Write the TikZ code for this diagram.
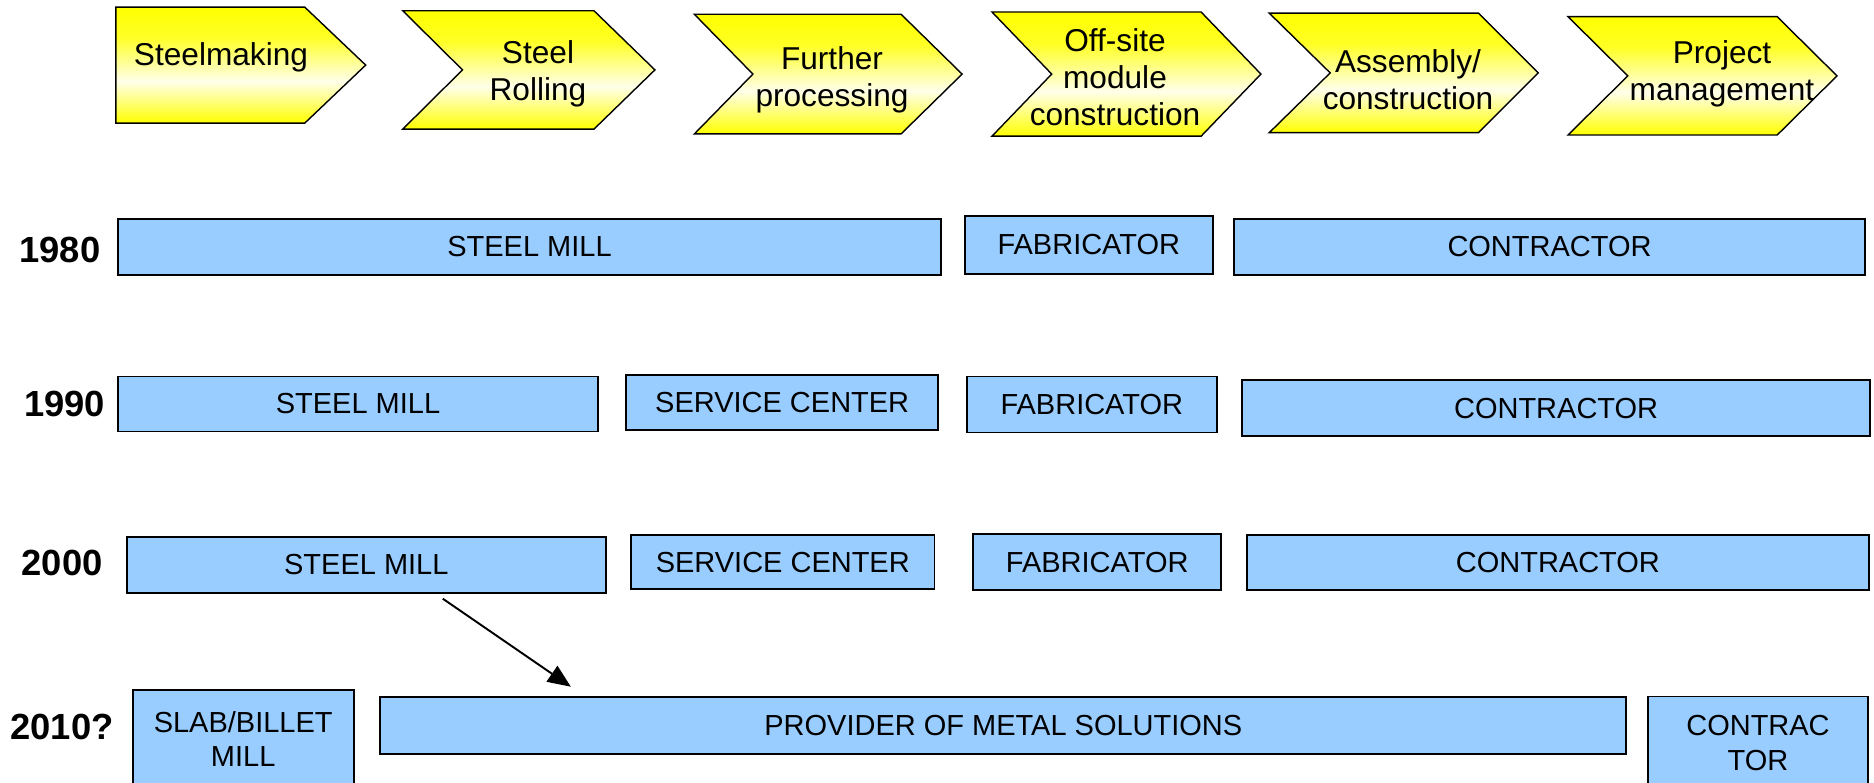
\documentclass[tikz,border=0pt]{standalone}
\usepackage{fontspec}
\setmainfont{Liberation Sans}
\usetikzlibrary{arrows.meta}
\definecolor{cUnit}{RGB}{153,204,255}
\definecolor{cStage}{RGB}{255,255,0}
\pgfdeclareverticalshading{stagefill}{100bp}{color(0bp)=(cStage); color(25bp)=(cStage); color(43bp)=(cStage!8!white); color(62bp)=(cStage!85!white); color(75bp)=(cStage); color(100bp)=(cStage)}

\begin{document}
\begin{tikzpicture}[x=0.02cm,y=-0.02cm,
  stage/.style={draw=black,line width=0.8pt,shade,shading=stagefill},
  stagetxt/.style={align=center,font=\fontsize{18}{21}\selectfont,inner sep=0pt},
  unit/.style={draw=black,line width=1.1pt,fill=cUnit,inner sep=0pt,outer sep=0pt,align=center,font=\fontsize{16.5}{19.5}\selectfont},
  year/.style={font=\fontsize{20.7}{24}\selectfont\bfseries,inner sep=0pt}]
\useasboundingbox (0,0) rectangle (1874,783);
\clip (0,0) rectangle (1874,783);
\draw[stage] (115.9,7.2) -- (304.8,7.2) -- (365.7,65.1) -- (304.8,123.1) -- (115.9,123.1) -- cycle;
\node[stagetxt] (making) at (221,57) {Steelmaking};
\draw[stage] (402.8,10.8) -- (594,10.8) -- (654.9,69.9) -- (594,129.1) -- (402.8,129.1) -- (462.5,69.9) -- cycle;
\node[stagetxt] (rolling) at (538,73.5) {Steel\\Rolling};
\draw[stage] (694.4,14.3) -- (901.1,14.3) -- (962.1,74.1) -- (901.1,133.9) -- (694.4,133.9) -- (752.9,74.1) -- cycle;
\node[stagetxt] (further) at (832,79.5) {Further\\processing};
\draw[stage] (992,12) -- (1201.1,12) -- (1260.9,74.1) -- (1201.1,136.2) -- (992,136.2) -- (1051.7,74.1) -- cycle;
\node[stagetxt] (offsite) at (1115,77) {Off-site\\module\\construction};
\draw[stage] (1269.2,13.1) -- (1478.4,13.1) -- (1538.2,72.9) -- (1478.4,132.7) -- (1269.2,132.7) -- (1330.2,72.9) -- cycle;
\node[stagetxt] (assembly) at (1408,80) {Assembly/\\construction};
\draw[stage] (1568,16.7) -- (1777.2,16.7) -- (1837,75.9) -- (1777.2,135) -- (1568,135) -- (1627.8,75.9) -- cycle;
\node[stagetxt] (project) at (1722,74) {Project\\management};
\node[year] (y80) at (59.8,249.8) {1980};
\node[unit,minimum width=16.45cm,minimum height=1.12cm] (mill80) at (529.5,246.8) {STEEL MILL};
\node[unit,minimum width=4.97cm,minimum height=1.15cm] (fab80) at (1088.8,245) {FABRICATOR};
\node[unit,minimum width=12.64cm,minimum height=1.12cm] (con80) at (1549.5,246.8) {CONTRACTOR};
\node[year] (y90) at (64.5,404) {1990};
\node[unit,minimum width=9.59cm,minimum height=1.10cm] (mill90) at (358,404) {STEEL MILL};
\node[unit,minimum width=6.24cm,minimum height=1.10cm] (serv90) at (782.2,402.8) {SERVICE CENTER};
\node[unit,minimum width=5.00cm,minimum height=1.12cm] (fab90) at (1091.8,404.5) {FABRICATOR};
\node[unit,minimum width=12.57cm,minimum height=1.12cm] (con90) at (1556.1,408.1) {CONTRACTOR};
\node[year] (y00) at (62.1,563) {2000};
\node[unit,minimum width=9.58cm,minimum height=1.12cm] (mill00) at (366.3,564.7) {STEEL MILL};
\node[unit,minimum width=6.07cm,minimum height=1.08cm] (serv00) at (782.8,562.3) {SERVICE CENTER};
\node[unit,minimum width=4.97cm,minimum height=1.12cm] (fab00) at (1097.2,562.3) {FABRICATOR};
\node[unit,minimum width=12.45cm,minimum height=1.10cm] (con00) at (1557.9,562.9) {CONTRACTOR};
\node[year] (y10) at (62.1,726.6) {2010?};
\node[unit,minimum width=4.42cm,minimum height=1.96cm] (slab10) at (243.2,739) {SLAB/BILLET\\MILL};
\node[unit,minimum width=24.93cm,minimum height=1.15cm] (prov10) at (1003.3,725.5) {PROVIDER OF METAL SOLUTIONS};
\node[unit,minimum width=4.40cm,minimum height=1.86cm] (con10) at (1758,743) {CONTRAC\\TOR};
\draw[line width=1.1pt,-{Triangle[length=0.46cm,width=0.38cm]}] ([xshift=1.53cm,yshift=-0.12cm]mill00.south) -- ([xshift=-8.65cm,yshift=0.2cm]prov10.north);
\end{tikzpicture}
\end{document}
